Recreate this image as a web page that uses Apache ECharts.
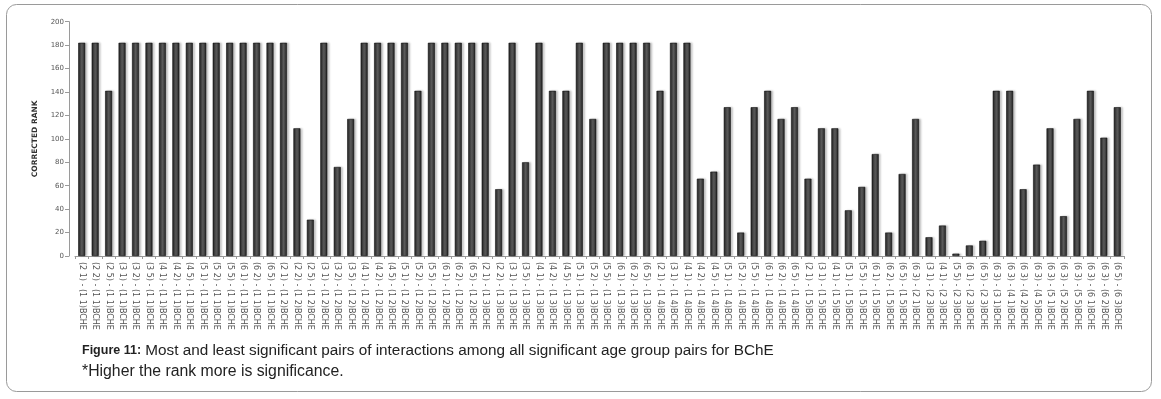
<!DOCTYPE html>
<html>
<head>
<meta charset="utf-8">
<script src="https://cdn.jsdelivr.net/npm/echarts@6/dist/echarts.min.js"></script>
<style>
html,body{margin:0;padding:0;background:#fff;}
#chart{width:1161px;height:399px;}
</style>
</head>
<body>
<div id="chart"></div>
<script>
var categories = [
  "(2 1) - (1 1)BCHE","(2 2) - (1 1)BCHE","(2 5) - (1 1)BCHE","(3 1) - (1 1)BCHE","(3 2) - (1 1)BCHE",
  "(3 5) - (1 1)BCHE","(4 1) - (1 1)BCHE","(4 2) - (1 1)BCHE","(4 5) - (1 1)BCHE","(5 1) - (1 1)BCHE",
  "(5 2) - (1 1)BCHE","(5 5) - (1 1)BCHE","(6 1) - (1 1)BCHE","(6 2) - (1 1)BCHE","(6 5) - (1 1)BCHE",
  "(2 1) - (1 2)BCHE","(2 2) - (1 2)BCHE","(2 5) - (1 2)BCHE","(3 1) - (1 2)BCHE","(3 2) - (1 2)BCHE",
  "(3 5) - (1 2)BCHE","(4 1) - (1 2)BCHE","(4 2) - (1 2)BCHE","(4 5) - (1 2)BCHE","(5 1) - (1 2)BCHE",
  "(5 2) - (1 2)BCHE","(5 5) - (1 2)BCHE","(6 1) - (1 2)BCHE","(6 2) - (1 2)BCHE","(6 5) - (1 2)BCHE",
  "(2 1) - (1 3)BCHE","(2 2) - (1 3)BCHE","(3 1) - (1 3)BCHE","(3 5) - (1 3)BCHE","(4 1) - (1 3)BCHE",
  "(4 2) - (1 3)BCHE","(4 5) - (1 3)BCHE","(5 1) - (1 3)BCHE","(5 2) - (1 3)BCHE","(5 5) - (1 3)BCHE",
  "(6 1) - (1 3)BCHE","(6 2) - (1 3)BCHE","(6 5) - (1 3)BCHE",
  "(2 1) - (1 4)BCHE","(3 1) - (1 4)BCHE","(4 1) - (1 4)BCHE","(4 2) - (1 4)BCHE","(4 5) - (1 4)BCHE",
  "(5 1) - (1 4)BCHE","(5 2) - (1 4)BCHE","(5 5) - (1 4)BCHE","(6 1) - (1 4)BCHE","(6 2) - (1 4)BCHE",
  "(6 5) - (1 4)BCHE",
  "(2 1) - (1 5)BCHE","(3 1) - (1 5)BCHE","(4 1) - (1 5)BCHE","(5 1) - (1 5)BCHE","(5 5) - (1 5)BCHE",
  "(6 1) - (1 5)BCHE","(6 2) - (1 5)BCHE","(6 5) - (1 5)BCHE",
  "(6 3) - (2 1)BCHE","(3 1) - (2 3)BCHE","(4 1) - (2 3)BCHE","(5 5) - (2 3)BCHE","(6 1) - (2 3)BCHE",
  "(6 5) - (2 3)BCHE","(6 3) - (3 1)BCHE","(6 3) - (4 1)BCHE","(6 3) - (4 2)BCHE","(6 3) - (4 5)BCHE",
  "(6 3) - (5 1)BCHE","(6 3) - (5 2)BCHE","(6 3) - (5 5)BCHE","(6 3) - (6 1)BCHE","(6 3) - (6 2)BCHE",
  "(6 5) - (6 3)BCHE"
];
var correctedRank = [
  182,182,141,182,182,182,182,182,182,182,182,182,182,182,182,
  182,109,31,182,76,117,182,182,182,182,141,182,182,182,182,
  182,57,182,80,182,141,141,182,117,182,182,182,182,
  141,182,182,66,72,127,20,127,141,117,127,
  66,109,109,39,59,87,20,70,
  117,16,26,2,9,13,141,141,57,78,109,34,117,141,101,127
];
var yAxisName = "CORRECTED RANK";
var yMin = 0, yMax = 200, yStep = 20;
var captionBold = "Figure 11:";
var captionText = " Most and least significant pairs of interactions among all significant age group pairs for BChE";
var noteText = "*Higher the rank more is significance.";

var chart = echarts.init(document.getElementById('chart'), null, {renderer:'canvas'});
var option = {
  animation: false,
  backgroundColor: '#ffffff',
  grid: { left: 75, right: 37, top: 21.7, bottom: 143, containLabel: false },
  xAxis: {
    type: 'category',
    data: categories,
    boundaryGap: true,
    axisLine: { show: true, lineStyle: { color: '#9a9a9a', width: 1 } },
    axisTick: { show: true, alignWithLabel: false, length: 3, lineStyle: { color: '#9a9a9a' } },
    axisLabel: {
      interval: 0, rotate: -90, margin: 6,
      fontFamily: 'DejaVu Sans', fontSize: 8, color: '#555'
    },
    splitLine: { show: false }
  },
  yAxis: {
    type: 'value',
    min: yMin, max: yMax, interval: yStep,
    offset: 6,
    name: yAxisName,
    nameLocation: 'middle',
    nameRotate: 90,
    nameGap: 30,
    nameTextStyle: { fontFamily: 'DejaVu Sans', fontSize: 7.5, fontWeight: 'bold', color: '#333' },
    axisLine: { show: true, lineStyle: { color: '#9a9a9a', width: 1 } },
    axisTick: { show: true, length: 4, lineStyle: { color: '#9a9a9a' } },
    axisLabel: { fontFamily: 'DejaVu Sans', fontSize: 7, color: '#555', margin: 5 },
    splitLine: { show: false }
  },
  series: [{
    type: 'bar',
    data: correctedRank,
    barWidth: 7,
    itemStyle: {
      color: new echarts.graphic.LinearGradient(0, 0, 1, 0, [
        { offset: 0, color: '#1a1a1a' },
        { offset: 0.3, color: '#474747' },
        { offset: 0.5, color: '#5c5c5c' },
        { offset: 0.7, color: '#474747' },
        { offset: 1, color: '#1a1a1a' }
      ]),
      borderColor: '#151515',
      borderWidth: 0.6,
      shadowColor: 'rgba(0,0,0,0.22)',
      shadowOffsetX: 2,
      shadowBlur: 2
    }
  }],
  graphic: [
    {
      type: 'rect', silent: true, z: -1,
      shape: { x: 6.5, y: 4.5, width: 1145, height: 387, r: 10 },
      style: { fill: 'none', stroke: '#9a9a9a', lineWidth: 1 }
    },
    {
      type: 'text', left: 82, top: 343,
      style: {
        text: '{b|' + captionBold + '}' + captionText,
        font: '15.3px "Liberation Sans"',
        fill: '#222',
        rich: { b: { fontWeight: 'bold', fontSize: 12.5, fontFamily: 'Liberation Sans', fill: '#222' } }
      }
    },
    {
      type: 'text', left: 82, top: 364,
      style: { text: noteText, font: '15.8px "Liberation Sans"', fill: '#222' }
    }
  ]
};
chart.setOption(option);
</script>
</body>
</html>
